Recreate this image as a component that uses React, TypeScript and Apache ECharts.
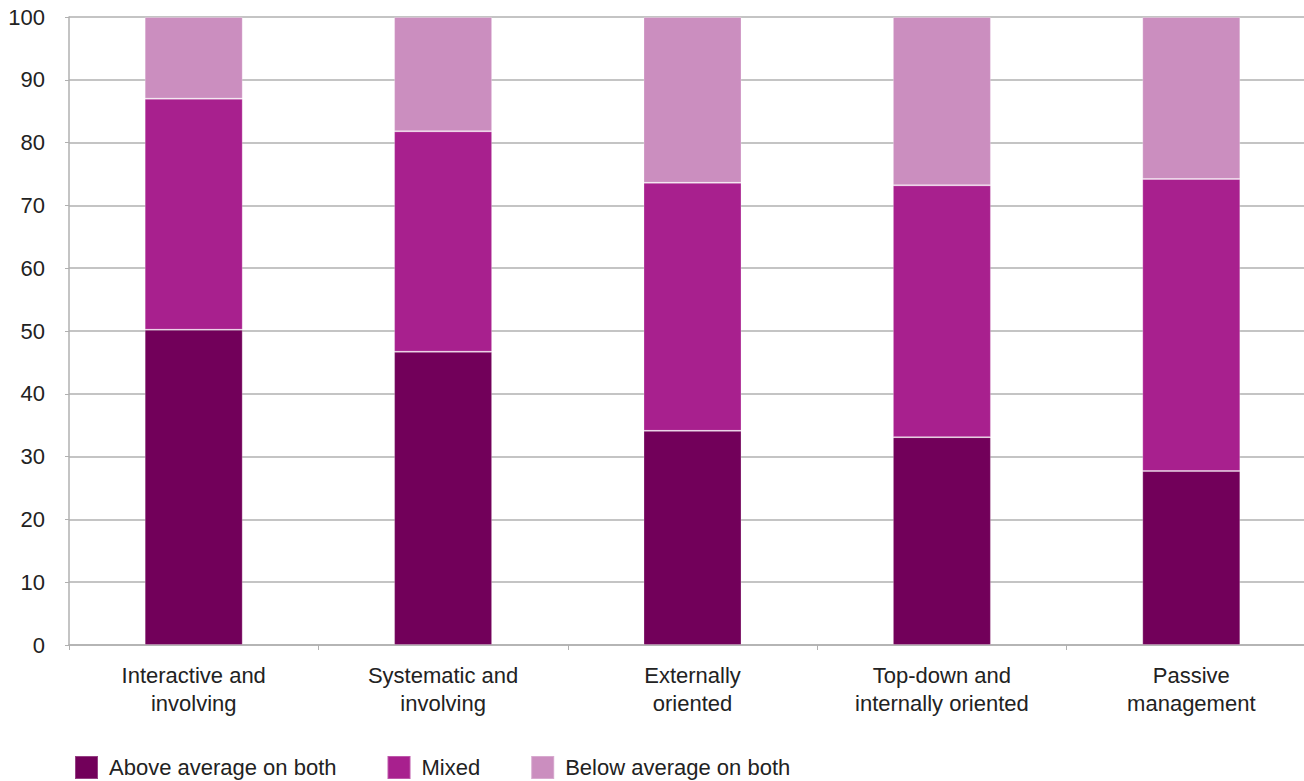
import React, { useEffect, useRef } from "react";
import * as echarts from "echarts";

const categories = [
  "Interactive and\ninvolving",
  "Systematic and\ninvolving",
  "Externally\noriented",
  "Top-down and\ninternally oriented",
  "Passive\nmanagement",
];
const seriesNames = ["Above average on both", "Mixed", "Below average on both"];
const aboveAverage = [50.2, 46.7, 34.1, 33.1, 27.7];
const mixed = [36.8, 35.1, 39.5, 40.1, 46.5];
const belowAverage = [13.0, 18.2, 26.4, 26.8, 25.8];
const colors = ["#72005A", "#A8208E", "#CB8EBF"];

const FONT = "Liberation Sans, Arial, sans-serif";

export default function App() {
  const ref = useRef<HTMLDivElement>(null);
  useEffect(() => {
    if (!ref.current) return;
    const chart = echarts.init(ref.current, undefined, { renderer: "svg" });
    const dataSets = [aboveAverage, mixed, belowAverage];
    chart.setOption({
      animation: false,
      textStyle: { fontFamily: FONT },
      grid: { left: 69, right: 0, top: 17, bottom: 136, containLabel: false },
      legend: {
        left: 74,
        top: 755,
        padding: 0,
        itemWidth: 23,
        itemHeight: 23,
        itemGap: 50,
        icon: "rect",
        textStyle: { fontSize: 22, color: "#222", fontFamily: FONT, padding: [0, 0, 0, 6] },
        data: seriesNames,
      },
      xAxis: {
        type: "category",
        data: categories,
        axisLine: { show: true, lineStyle: { color: "#b0b0b0", width: 1.5 } },
        axisTick: { show: true, length: 5, lineStyle: { color: "#b0b0b0" } },
        axisLabel: {
          fontSize: 22,
          color: "#222",
          lineHeight: 28,
          margin: 16,
          fontFamily: FONT,
        },
      },
      yAxis: {
        type: "value",
        min: 0,
        max: 100,
        interval: 10,
        axisLine: { show: true, lineStyle: { color: "#b0b0b0", width: 1.5 } },
        axisTick: { show: true, length: 4, lineStyle: { color: "#b0b0b0" } },
        splitLine: { show: true, lineStyle: { color: "#b0b0b0", width: 1.5 } },
        axisLabel: { fontSize: 22, color: "#222", margin: 24, fontFamily: FONT },
      },
      series: seriesNames.map((name, i) => ({
        name,
        type: "bar",
        stack: "total",
        barWidth: "39.3%",
        data: dataSets[i],
        itemStyle: { color: colors[i], borderColor: "rgba(255,255,255,0.25)", borderWidth: 1 },
      })),
    });
    return () => chart.dispose();
  }, []);
  return (
    <div
      style={{
        position: "fixed",
        left: 0,
        top: 0,
        width: 1304,
        height: 781,
        overflow: "hidden",
        background: "#fff",
      }}
    >
      <div ref={ref} style={{ width: 1316, height: 781 }} />
    </div>
  );
}
